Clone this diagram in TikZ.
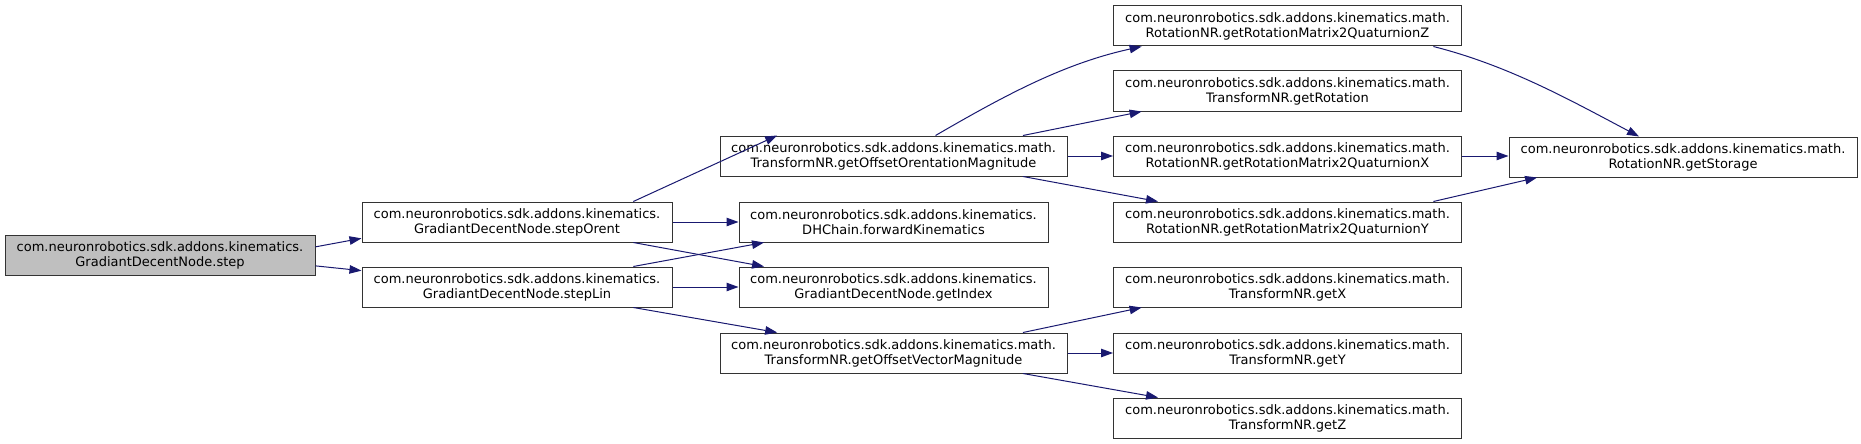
\documentclass[tikz,border=0pt]{standalone}
\usepackage{fontspec}
\setmainfont{DejaVu Sans}
\usetikzlibrary{shapes, arrows.meta, positioning, calc}
\definecolor{callblue}{HTML}{191970}

\begin{document}
\begin{tikzpicture}[x=1pt, y=-1pt, >={Triangle[length=12pt,width=8.5pt]}]
                    \tikzstyle{fn} = [draw=black!80, line width=1pt, rectangle, fill=white, minimum width=348pt, minimum height=40pt, inner sep=0pt, align=center, font=\fontsize{13}{15}\selectfont]
                    \tikzstyle{call} = [->, draw=callblue, line width=1pt]
                    \useasboundingbox (0,0) rectangle (1861,444);
                    \node[fn, fill=black!25, minimum width=310pt] (step) at (160, 255) {com.neuronrobotics.sdk.addons.kinematics.\\GradiantDecentNode.step};
                    \node[fn, minimum width=310pt] (stepOrent) at (517, 222) {com.neuronrobotics.sdk.addons.kinematics.\\GradiantDecentNode.stepOrent};
                    \node[fn, minimum width=310pt] (stepLin) at (517, 287) {com.neuronrobotics.sdk.addons.kinematics.\\GradiantDecentNode.stepLin};
                    \node[fn, minimum width=347pt] (offOrent) at (893.5, 156) {com.neuronrobotics.sdk.addons.kinematics.math.\\TransformNR.getOffsetOrentationMagnitude};
                    \node[fn, minimum width=309pt] (fwdKin) at (893.5, 222) {com.neuronrobotics.sdk.addons.kinematics.\\DHChain.forwardKinematics};
                    \node[fn, minimum width=309pt] (getIndex) at (893.5, 287) {com.neuronrobotics.sdk.addons.kinematics.\\GradiantDecentNode.getIndex};
                    \node[fn, minimum width=347pt] (offVec) at (893.5, 353) {com.neuronrobotics.sdk.addons.kinematics.math.\\TransformNR.getOffsetVectorMagnitude};
                    \node[fn] (quatZ) at (1287.5, 26) {com.neuronrobotics.sdk.addons.kinematics.math.\\RotationNR.getRotationMatrix2QuaturnionZ};
                    \node[fn] (getRot) at (1287.5, 91) {com.neuronrobotics.sdk.addons.kinematics.math.\\TransformNR.getRotation};
                    \node[fn] (quatX) at (1287.5, 156) {com.neuronrobotics.sdk.addons.kinematics.math.\\RotationNR.getRotationMatrix2QuaturnionX};
                    \node[fn] (quatY) at (1287.5, 222) {com.neuronrobotics.sdk.addons.kinematics.math.\\RotationNR.getRotationMatrix2QuaturnionY};
                    \node[fn] (getX) at (1287.5, 287) {com.neuronrobotics.sdk.addons.kinematics.math.\\TransformNR.getX};
                    \node[fn] (getY) at (1287.5, 353) {com.neuronrobotics.sdk.addons.kinematics.math.\\TransformNR.getY};
                    \node[fn] (getZ) at (1287.5, 418) {com.neuronrobotics.sdk.addons.kinematics.math.\\TransformNR.getZ};
                    \node[fn] (getStorage) at (1683, 157) {com.neuronrobotics.sdk.addons.kinematics.math.\\RotationNR.getStorage};
                    
                    \draw[call] (step.3) -- (stepOrent.186);
                    \draw[call] (step.-4) -- (stepLin.174);
                    \draw[call] (stepOrent.10) -- (offOrent.170);
                    \draw[call] (stepOrent.east) -- (fwdKin.west);
                    \draw[call] (stepOrent.-10) -- (getIndex.171);
                    \draw[call] (stepLin.10) -- (fwdKin.189);
                    \draw[call] (stepLin.east) -- (getIndex.west);
                    \draw[call] (stepLin.-10) -- (offVec.170);
                    \draw[call] (offOrent.26) .. controls +(69,-40) and +(-78,17) .. (quatZ.188.5);
                    \draw[call] (offOrent.9) -- (getRot.188.5);
                    \draw[call] (offOrent.east) -- (quatX.west);
                    \draw[call] (offOrent.-9) -- (quatY.171.5);
                    \draw[call] (quatZ.-8.7) .. controls +(75,19) and +(-70,-37) .. (getStorage.155);
                    \draw[call] (quatX.east) -- (getStorage.west |- quatX.east);
                    \draw[call] (quatY.8.7) -- (getStorage.188.7);
                    \draw[call] (offVec.9) -- (getX.188.5);
                    \draw[call] (offVec.east) -- (getY.west);
                    \draw[call] (offVec.-9) -- (getZ.171.5);
                \end{tikzpicture}
\end{document}
